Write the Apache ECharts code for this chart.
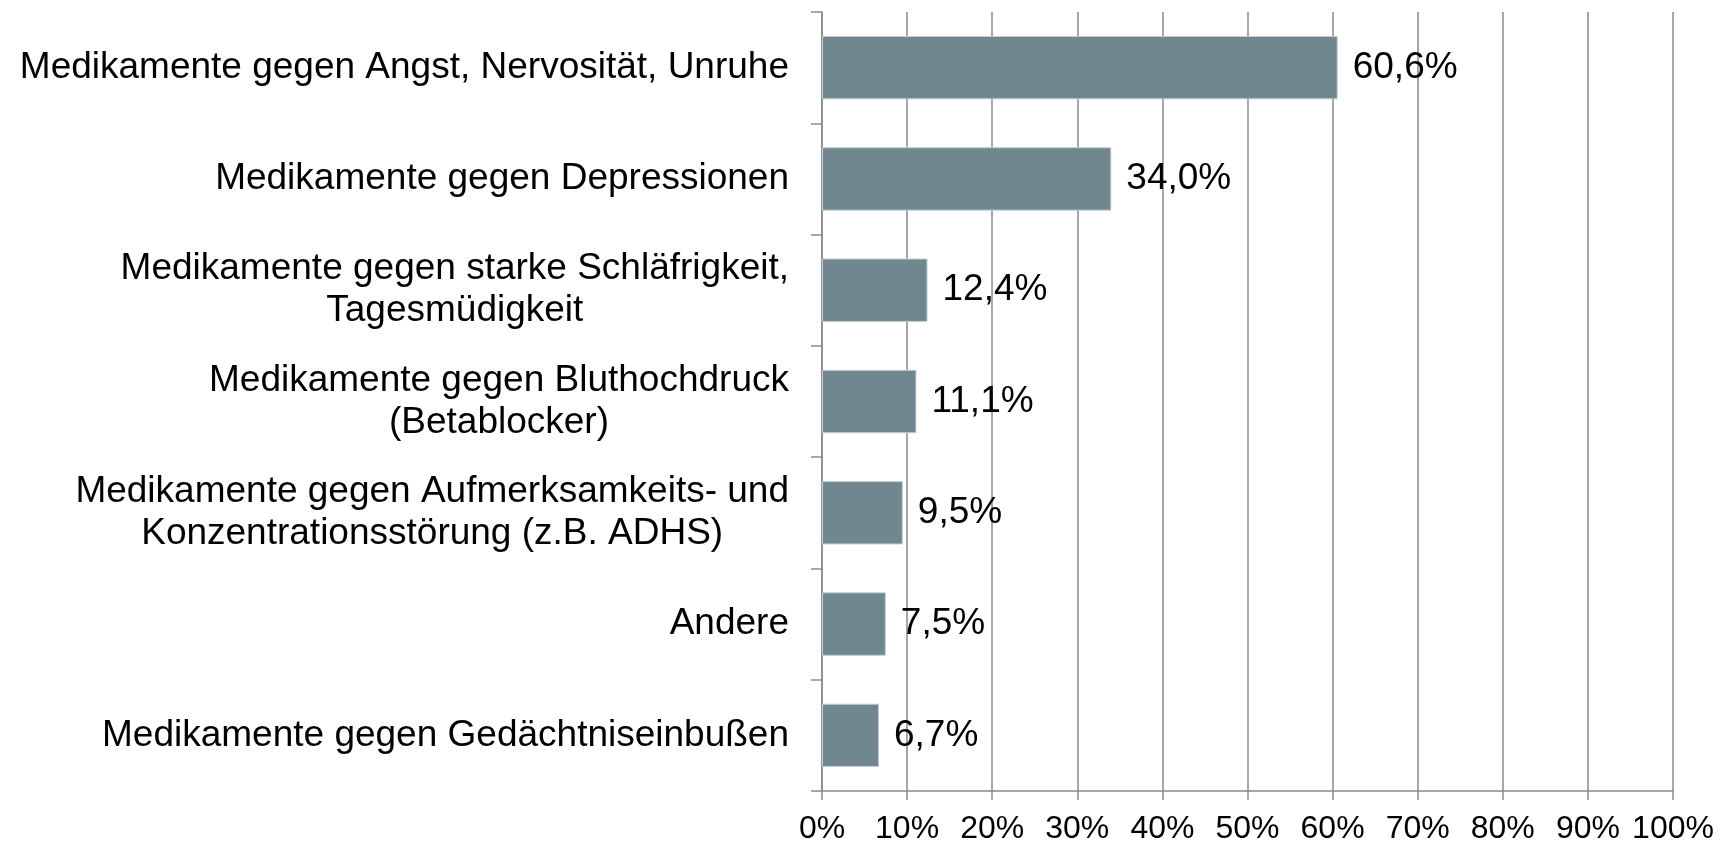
<!DOCTYPE html>
<html>
<head>
<meta charset="utf-8">
<script src="https://cdn.jsdelivr.net/npm/echarts@6/dist/echarts.min.js"></script>
<style>
  html, body { margin: 0; padding: 0; background: #fff; }
  #main { width: 1721px; height: 845px; }
</style>
</head>
<body>
<div id="main"></div>
<script>
// Kategorien (von oben nach unten)
const categories = [
  'Medikamente gegen Angst, Nervosität, Unruhe',
  'Medikamente gegen Depressionen',
  'Medikamente gegen starke Schläfrigkeit,\nTagesmüdigkeit',
  'Medikamente gegen Bluthochdruck\n(Betablocker)',
  'Medikamente gegen Aufmerksamkeits- und\nKonzentrationsstörung (z.B. ADHS)',
  'Andere',
  'Medikamente gegen Gedächtniseinbußen'
];
const values = [60.6, 34.0, 12.4, 11.1, 9.5, 7.5, 6.7];
const xTicks = [0, 10, 20, 30, 40, 50, 60, 70, 80, 90, 100];

const gray = '#8a8a8a';
const font = 'Liberation Sans, Arial, sans-serif';

let chart = echarts.init(document.getElementById('main'));
let option = {
  animation: false,
  grid: { left: 822, right: 48, top: 12, bottom: 54 },
  xAxis: {
    type: 'value',
    min: xTicks[0],
    max: xTicks[xTicks.length - 1],
    interval: 10,
    axisLine: { show: true, lineStyle: { color: gray, width: 1.5 } },
    axisTick: { show: true, length: 9, lineStyle: { color: gray, width: 1.5 } },
    splitLine: { show: true, lineStyle: { color: gray, width: 1.5 } },
    axisLabel: {
      color: '#000', fontFamily: font, fontSize: 32, margin: 22,
      formatter: '{value}%'
    }
  },
  yAxis: {
    type: 'category',
    inverse: true,
    data: categories,
    axisLine: { show: true, lineStyle: { color: gray, width: 1.5 } },
    axisTick: { show: true, length: 11, lineStyle: { color: gray, width: 1.5 } },
    axisLabel: {
      color: '#000', fontFamily: font, fontSize: 37, lineHeight: 42,
      margin: 33, align: 'right',
      // mehrzeilige Beschriftungen zentriert untereinander
      formatter: v => v.split('\n').map(s => '{c|' + s + '}').join('\n'),
      rich: {
        c: { align: 'center', color: '#000', fontFamily: font, fontSize: 37, lineHeight: 42 }
      }
    }
  },
  series: [{
    type: 'bar',
    data: values,
    barCategoryGap: '43%',
    itemStyle: { color: '#71878f', borderColor: '#c5ced4', borderWidth: 1 },
    label: {
      show: true, position: 'right', distance: 15,
      color: '#000', fontFamily: font, fontSize: 37,
      formatter: p => p.value.toFixed(1).replace('.', ',') + '%'
    }
  }]
};
chart.setOption(option);
</script>
</body>
</html>
